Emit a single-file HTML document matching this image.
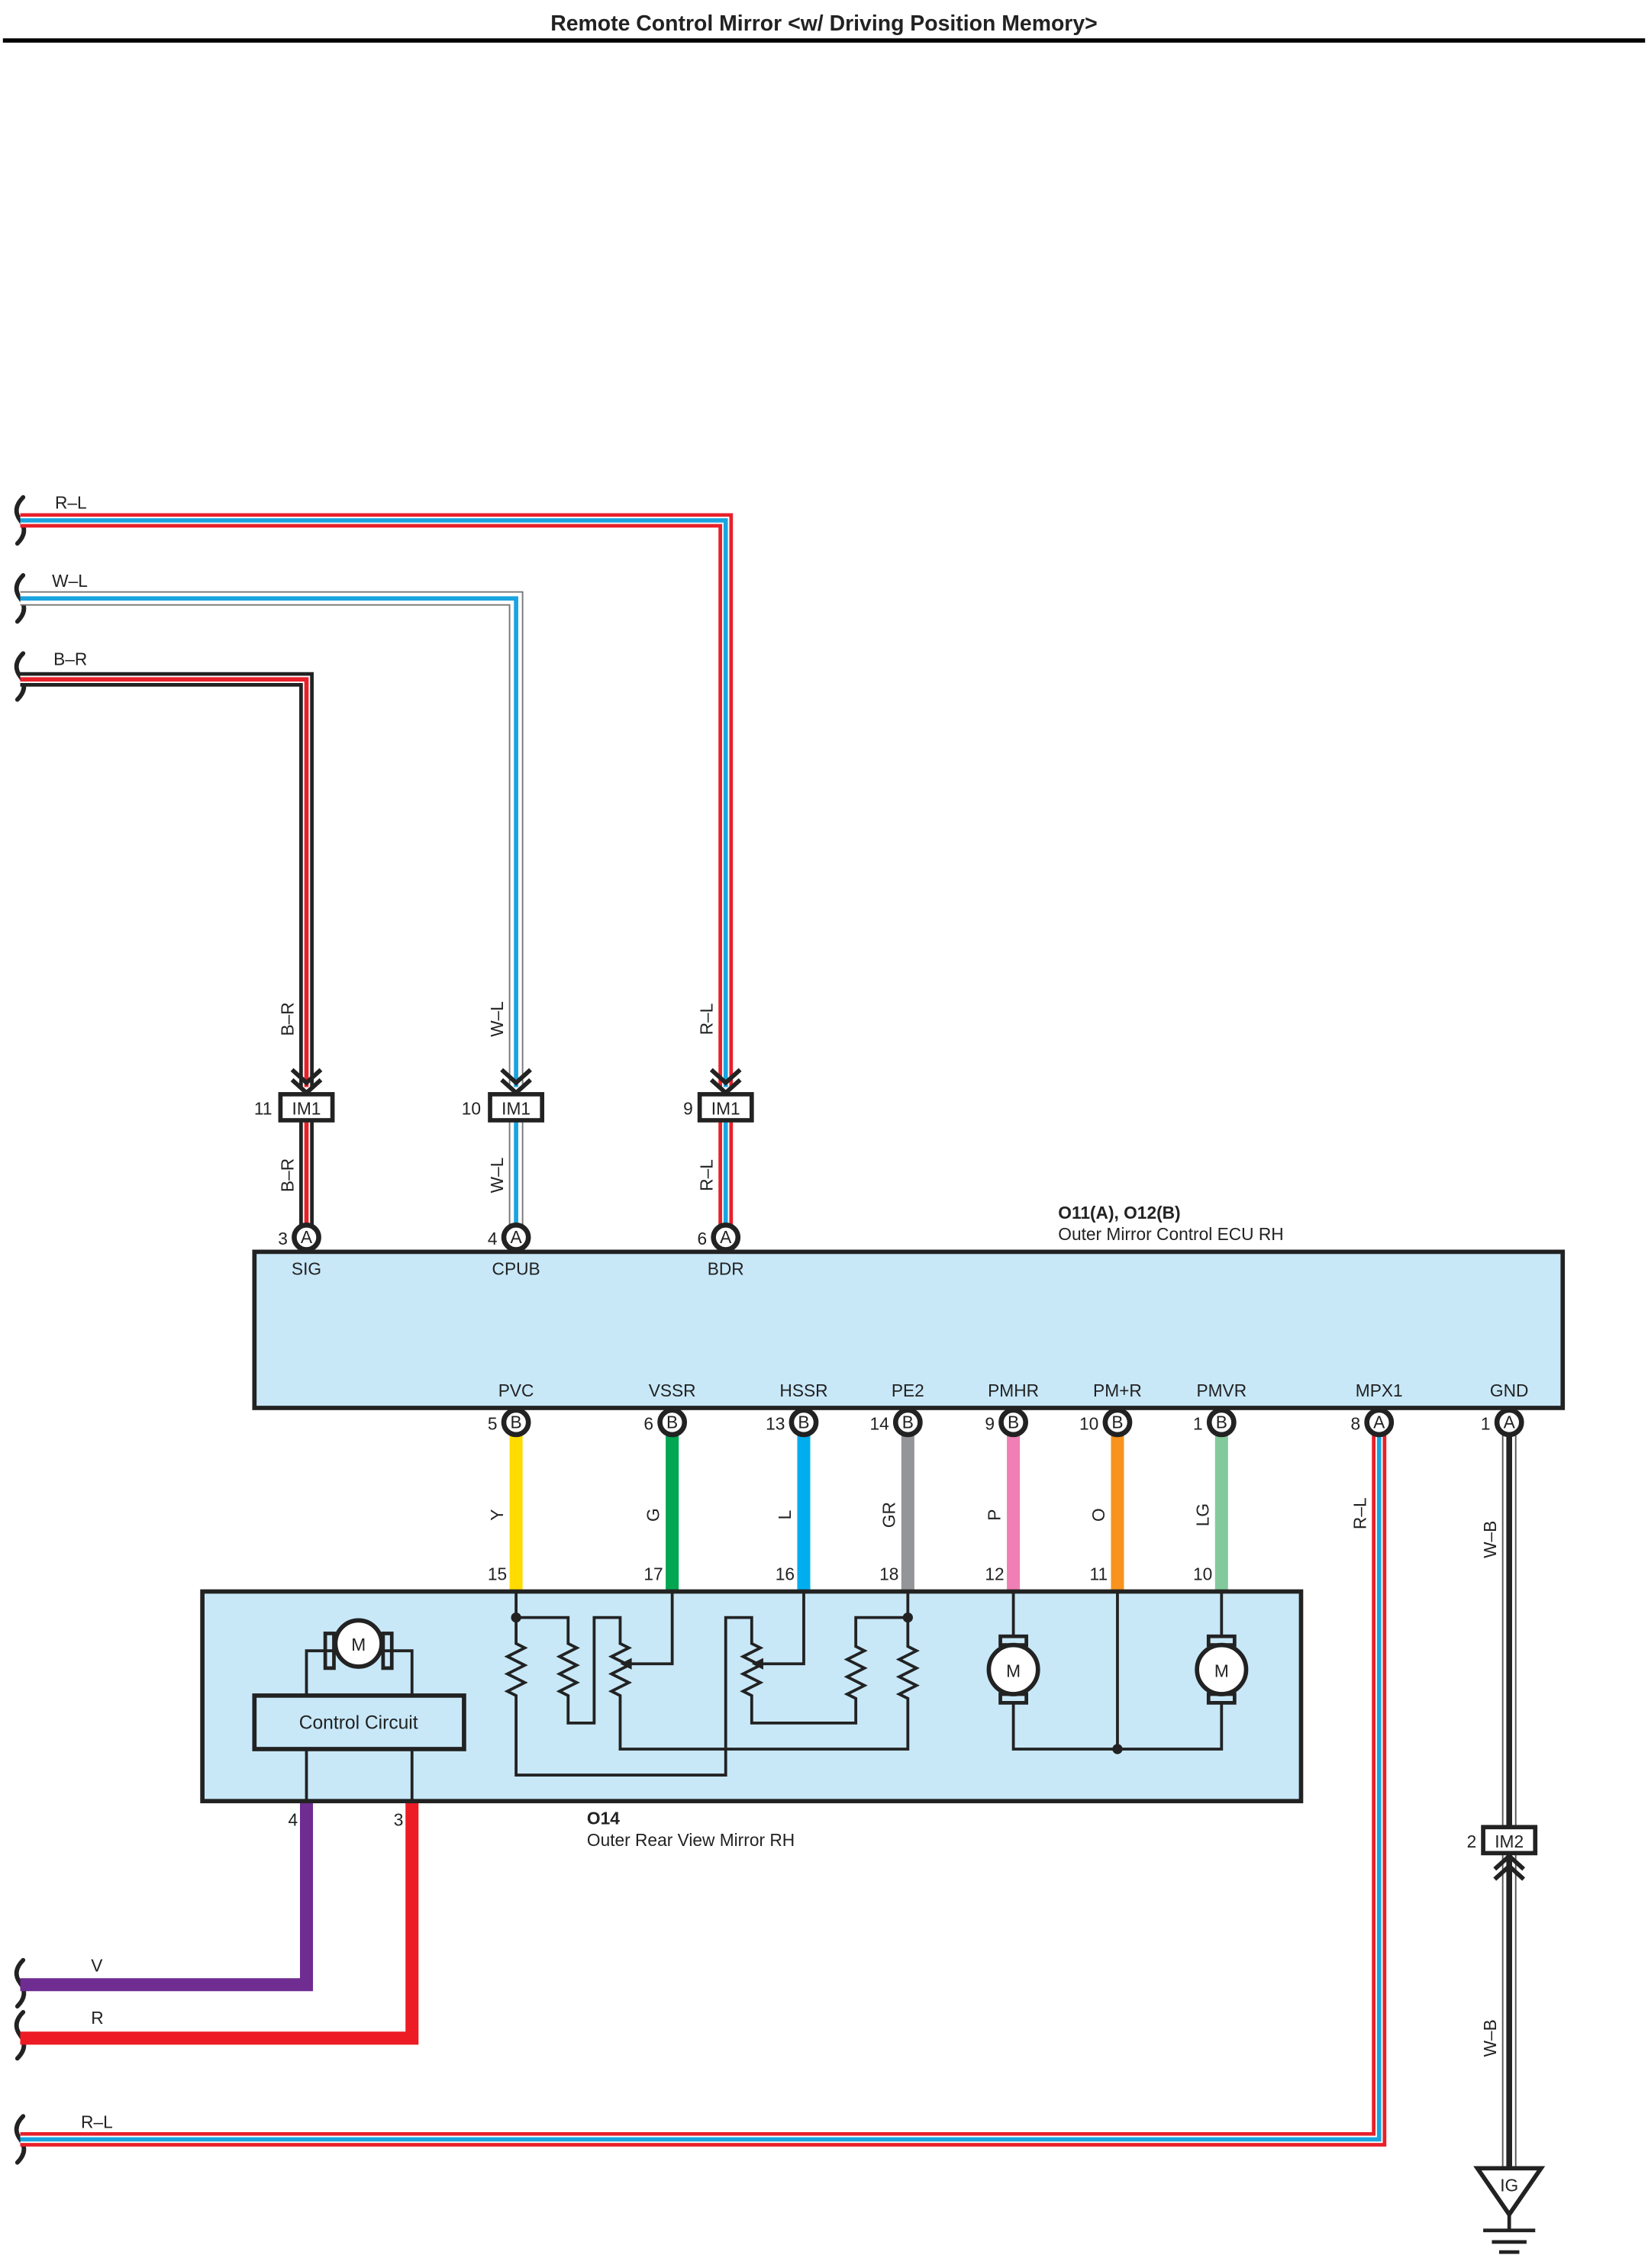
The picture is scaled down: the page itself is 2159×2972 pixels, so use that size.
<!DOCTYPE html>
<html><head><meta charset="utf-8"><style>
html,body{margin:0;padding:0;background:#fff}
svg{display:block}
text{font-family:"Liberation Sans",sans-serif;fill:#222}
</style></head><body>
<svg width="2159" height="2972" viewBox="0 0 1140 1569" preserveAspectRatio="none" xmlns="http://www.w3.org/2000/svg">
<text x="570" y="21" font-size="15" font-weight="bold" text-anchor="middle" fill="#000">Remote Control Mirror &lt;w/ Driving Position Memory&gt;</text>
<line x1="2" y1="28" x2="1138" y2="28" stroke="#000" stroke-width="3"/>

<g fill="none" stroke="#222" stroke-width="3" stroke-linecap="round">
<path d="M16,344 q-8,8 -2,16 q6,8 -2,16"/>
<path d="M16,398 q-8,8 -2,16 q6,8 -2,16"/>
<path d="M16,452 q-8,8 -2,16 q6,8 -2,16"/>
<path d="M16,1356 q-8,8 -2,16 q6,8 -2,16"/>
<path d="M16,1392 q-8,8 -2,16 q6,8 -2,16"/>
<path d="M16,1464 q-8,8 -2,16 q6,8 -2,16"/>
</g>

<g fill="none" stroke-linejoin="miter">
<path d="M14,360 H502 V752" stroke="#e8202a" stroke-width="10"/>
<path d="M14,360 H502 V752" stroke="#fff" stroke-width="5"/>
<path d="M14,360 H502 V752" stroke="#19a4e0" stroke-width="3"/>
<path d="M502,775 V850" stroke="#e8202a" stroke-width="10"/>
<path d="M502,775 V850" stroke="#fff" stroke-width="5"/>
<path d="M502,775 V850" stroke="#19a4e0" stroke-width="3"/>
<path d="M14,414 H357 V752" stroke="#777" stroke-width="10"/>
<path d="M14,414 H357 V752" stroke="#fff" stroke-width="8"/>
<path d="M14,414 H357 V752" stroke="#19a4e0" stroke-width="3"/>
<path d="M357,775 V850" stroke="#777" stroke-width="10"/>
<path d="M357,775 V850" stroke="#fff" stroke-width="8"/>
<path d="M357,775 V850" stroke="#19a4e0" stroke-width="3"/>
<path d="M14,470 H212 V752" stroke="#222" stroke-width="10"/>
<path d="M14,470 H212 V752" stroke="#fff" stroke-width="5"/>
<path d="M14,470 H212 V752" stroke="#e8202a" stroke-width="3"/>
<path d="M212,775 V850" stroke="#222" stroke-width="10"/>
<path d="M212,775 V850" stroke="#fff" stroke-width="5"/>
<path d="M212,775 V850" stroke="#e8202a" stroke-width="3"/>
<path d="M954,990 V1480 H14" stroke="#e8202a" stroke-width="10"/>
<path d="M954,990 V1480 H14" stroke="#fff" stroke-width="5"/>
<path d="M954,990 V1480 H14" stroke="#19a4e0" stroke-width="3"/>
<path d="M1044,990 V1265 M1044,1282 V1500" stroke="#555" stroke-width="10"/>
<path d="M1044,990 V1265 M1044,1282 V1500" stroke="#fff" stroke-width="8"/>
<path d="M1044,990 V1265 M1044,1282 V1500" stroke="#222" stroke-width="4"/>
</g>
<text x="38" y="352" font-size="12">R–L</text>
<text x="36" y="406" font-size="12">W–L</text>
<text x="37" y="460" font-size="12">B–R</text>
<text x="56" y="1472" font-size="12">R–L</text>

<g fill="none" stroke="#222" stroke-width="3">
<path d="M202,740 l10,9 l10,-9 M202,747 l10,9 l10,-9"/>
<path d="M347,740 l10,9 l10,-9 M347,747 l10,9 l10,-9"/>
<path d="M492,740 l10,9 l10,-9 M492,747 l10,9 l10,-9"/>
<path d="M1034,1293 l10,-9 l10,9 M1034,1300 l10,-9 l10,9"/>
</g>
<g fill="#fff" stroke="#222" stroke-width="3">
<rect x="194" y="757" width="36" height="18"/>
<rect x="339" y="757" width="36" height="18"/>
<rect x="484" y="757" width="36" height="18"/>
<rect x="1026" y="1264" width="36" height="18"/>
</g>
<g font-size="12" text-anchor="middle">
<text x="212" y="771">IM1</text><text x="357" y="771">IM1</text><text x="502" y="771">IM1</text><text x="1044" y="1278">IM2</text>
<text x="182" y="771">11</text><text x="326" y="771">10</text><text x="476" y="771">9</text><text x="1018" y="1278">2</text>
</g>
<g font-size="12" text-anchor="middle">
<text transform="translate(203,705) rotate(-90)">B–R</text>
<text transform="translate(348,705) rotate(-90)">W–L</text>
<text transform="translate(493,705) rotate(-90)">R–L</text>
<text transform="translate(203,813) rotate(-90)">B–R</text>
<text transform="translate(348,813) rotate(-90)">W–L</text>
<text transform="translate(493,813) rotate(-90)">R–L</text>
<text transform="translate(945,1047) rotate(-90)">R–L</text>
<text transform="translate(1035,1065) rotate(-90)">W–B</text>
<text transform="translate(1035,1410) rotate(-90)">W–B</text>
</g>

<text x="732" y="843" font-size="12" font-weight="bold">O11(A), O12(B)</text>
<text x="732" y="858" font-size="12">Outer Mirror Control ECU RH</text>
<rect x="176" y="866" width="905" height="108" fill="#c8e8f8" stroke="#222" stroke-width="3"/>
<g font-size="12" text-anchor="middle">
<text x="212" y="882">SIG</text><text x="357" y="882">CPUB</text><text x="502" y="882">BDR</text>
<text x="357" y="966">PVC</text><text x="465" y="966">VSSR</text><text x="556" y="966">HSSR</text><text x="628" y="966">PE2</text>
<text x="701" y="966">PMHR</text><text x="773" y="966">PM+R</text><text x="845" y="966">PMVR</text><text x="954" y="966">MPX1</text><text x="1044" y="966">GND</text>
</g>

<g stroke-width="9">
<line x1="357" y1="990" x2="357" y2="1101" stroke="#ffdc00"/>
<line x1="465" y1="990" x2="465" y2="1101" stroke="#00a651"/>
<line x1="556" y1="990" x2="556" y2="1101" stroke="#00aeef"/>
<line x1="628" y1="990" x2="628" y2="1101" stroke="#939598"/>
<line x1="701" y1="990" x2="701" y2="1101" stroke="#f07fb5"/>
<line x1="773" y1="990" x2="773" y2="1101" stroke="#f7931e"/>
<line x1="845" y1="990" x2="845" y2="1101" stroke="#82ca9c"/>
</g>
<g font-size="12" text-anchor="middle">
<text transform="translate(348,1048) rotate(-90)">Y</text>
<text transform="translate(456,1048) rotate(-90)">G</text>
<text transform="translate(547,1048) rotate(-90)">L</text>
<text transform="translate(619,1048) rotate(-90)">GR</text>
<text transform="translate(692,1048) rotate(-90)">P</text>
<text transform="translate(764,1048) rotate(-90)">O</text>
<text transform="translate(836,1048) rotate(-90)">LG</text>
<text x="344" y="1093">15</text><text x="452" y="1093">17</text><text x="543" y="1093">16</text><text x="615" y="1093">18</text>
<text x="688" y="1093">12</text><text x="760" y="1093">11</text><text x="832" y="1093">10</text>
</g>

<g fill="#fff" stroke="#222" stroke-width="3.5">
<circle cx="212" cy="856" r="8.5"/><circle cx="357" cy="856" r="8.5"/><circle cx="502" cy="856" r="8.5"/>
<circle cx="357" cy="984" r="8.5"/><circle cx="465" cy="984" r="8.5"/><circle cx="556" cy="984" r="8.5"/><circle cx="628" cy="984" r="8.5"/>
<circle cx="701" cy="984" r="8.5"/><circle cx="773" cy="984" r="8.5"/><circle cx="845" cy="984" r="8.5"/><circle cx="954" cy="984" r="8.5"/><circle cx="1044" cy="984" r="8.5"/>
</g>
<g font-size="12" text-anchor="middle">
<text x="212" y="860">A</text><text x="357" y="860">A</text><text x="502" y="860">A</text>
<text x="357" y="988">B</text><text x="465" y="988">B</text><text x="556" y="988">B</text><text x="628" y="988">B</text>
<text x="701" y="988">B</text><text x="773" y="988">B</text><text x="845" y="988">B</text><text x="954" y="988">A</text><text x="1044" y="988">A</text>
</g>
<g font-size="12" text-anchor="end">
<text x="199" y="861">3</text><text x="344" y="861">4</text><text x="489" y="861">6</text>
<text x="344" y="989">5</text><text x="452" y="989">6</text><text x="543" y="989">13</text><text x="615" y="989">14</text>
<text x="688" y="989">9</text><text x="760" y="989">10</text><text x="832" y="989">1</text><text x="941" y="989">8</text><text x="1031" y="989">1</text>
</g>

<path d="M212,1246 V1373 H14" fill="none" stroke="#6f2c91" stroke-width="9"/>
<path d="M285,1246 V1410 H14" fill="none" stroke="#ed1c24" stroke-width="9"/>
<text x="63" y="1364" font-size="12">V</text>
<text x="63" y="1400" font-size="12">R</text>
<text x="206" y="1263" font-size="12" text-anchor="end">4</text>
<text x="279" y="1263" font-size="12" text-anchor="end">3</text>

<rect x="140" y="1101" width="760" height="145" fill="#c8e8f8" stroke="#222" stroke-width="3"/>
<text x="406" y="1262" font-size="12" font-weight="bold">O14</text>
<text x="406" y="1277" font-size="12">Outer Rear View Mirror RH</text>

<g fill="none" stroke="#222" stroke-width="2">
<path d="M212,1173 V1142 H232 M264,1142 H285 V1173"/>
<rect x="176" y="1173" width="145" height="37" stroke-width="3"/>
<path d="M212,1210 V1246 M285,1210 V1246"/>
<rect x="225" y="1130" width="6" height="24" stroke-width="2.5"/>
<rect x="265" y="1130" width="6" height="24" stroke-width="2.5"/>
<circle cx="248" cy="1137" r="16" fill="#fff" stroke-width="3"/>
<path d="M357,1101 V1137 l6,3 l-12,6 l12,6 l-12,6 l12,6 l-12,6 l6,3 V1228 H502 V1119 H520 V1137 l6,3 l-12,6 l12,6 l-12,6 l12,6 l-12,6 l6,3 V1192 H592 V1175 l-6,-3 l12,-6 l-12,-6 l12,-6 l-12,-6 l12,-6 l-6,-3 V1119 H628"/>
<path d="M357,1119 H393 V1137 l6,3 l-12,6 l12,6 l-12,6 l12,6 l-12,6 l6,3 V1192 H411 V1119 H429 V1137 l6,3 l-12,6 l12,6 l-12,6 l12,6 l-12,6 l6,3 V1210 H628 V1175 l-6,-3 l12,-6 l-12,-6 l12,-6 l-12,-6 l12,-6 l-6,-3 V1101"/>
<path d="M465,1101 V1151 H434 M556,1101 V1151 H525"/>
<path d="M701,1101 V1132 M701,1178 V1210 H845 V1178 M845,1132 V1101 M773,1101 V1210"/>
<rect x="692" y="1132" width="18" height="6" stroke-width="2.5"/>
<rect x="692" y="1172" width="18" height="6" stroke-width="2.5"/>
<rect x="836" y="1132" width="18" height="6" stroke-width="2.5"/>
<rect x="836" y="1172" width="18" height="6" stroke-width="2.5"/>
<circle cx="701" cy="1155" r="17" fill="#fff" stroke-width="3"/>
<circle cx="845" cy="1155" r="17" fill="#fff" stroke-width="3"/>
</g>
<path d="M429,1151 l8,-4 v8 z M520,1151 l8,-4 v8 z" fill="#222"/>
<g fill="#222"><circle cx="357" cy="1119" r="3.5"/><circle cx="628" cy="1119" r="3.5"/><circle cx="773" cy="1210" r="3.5"/></g>
<text x="248" y="1142" font-size="12" text-anchor="middle">M</text>
<text x="701" y="1160" font-size="12" text-anchor="middle">M</text>
<text x="845" y="1160" font-size="12" text-anchor="middle">M</text>
<text x="248" y="1196" font-size="13" text-anchor="middle">Control Circuit</text>

<path d="M1022,1500 H1066 L1044,1532 Z" fill="#fff" stroke="#222" stroke-width="3"/>
<text x="1044" y="1516" font-size="12" text-anchor="middle">IG</text>
<g stroke="#222" stroke-width="2.5">
<line x1="1044" y1="1532" x2="1044" y2="1543"/>
<line x1="1026" y1="1543" x2="1062" y2="1543"/>
<line x1="1032" y1="1551" x2="1056" y2="1551"/>
<line x1="1037" y1="1558" x2="1051" y2="1558"/>
</g>
</svg>
</body></html>
